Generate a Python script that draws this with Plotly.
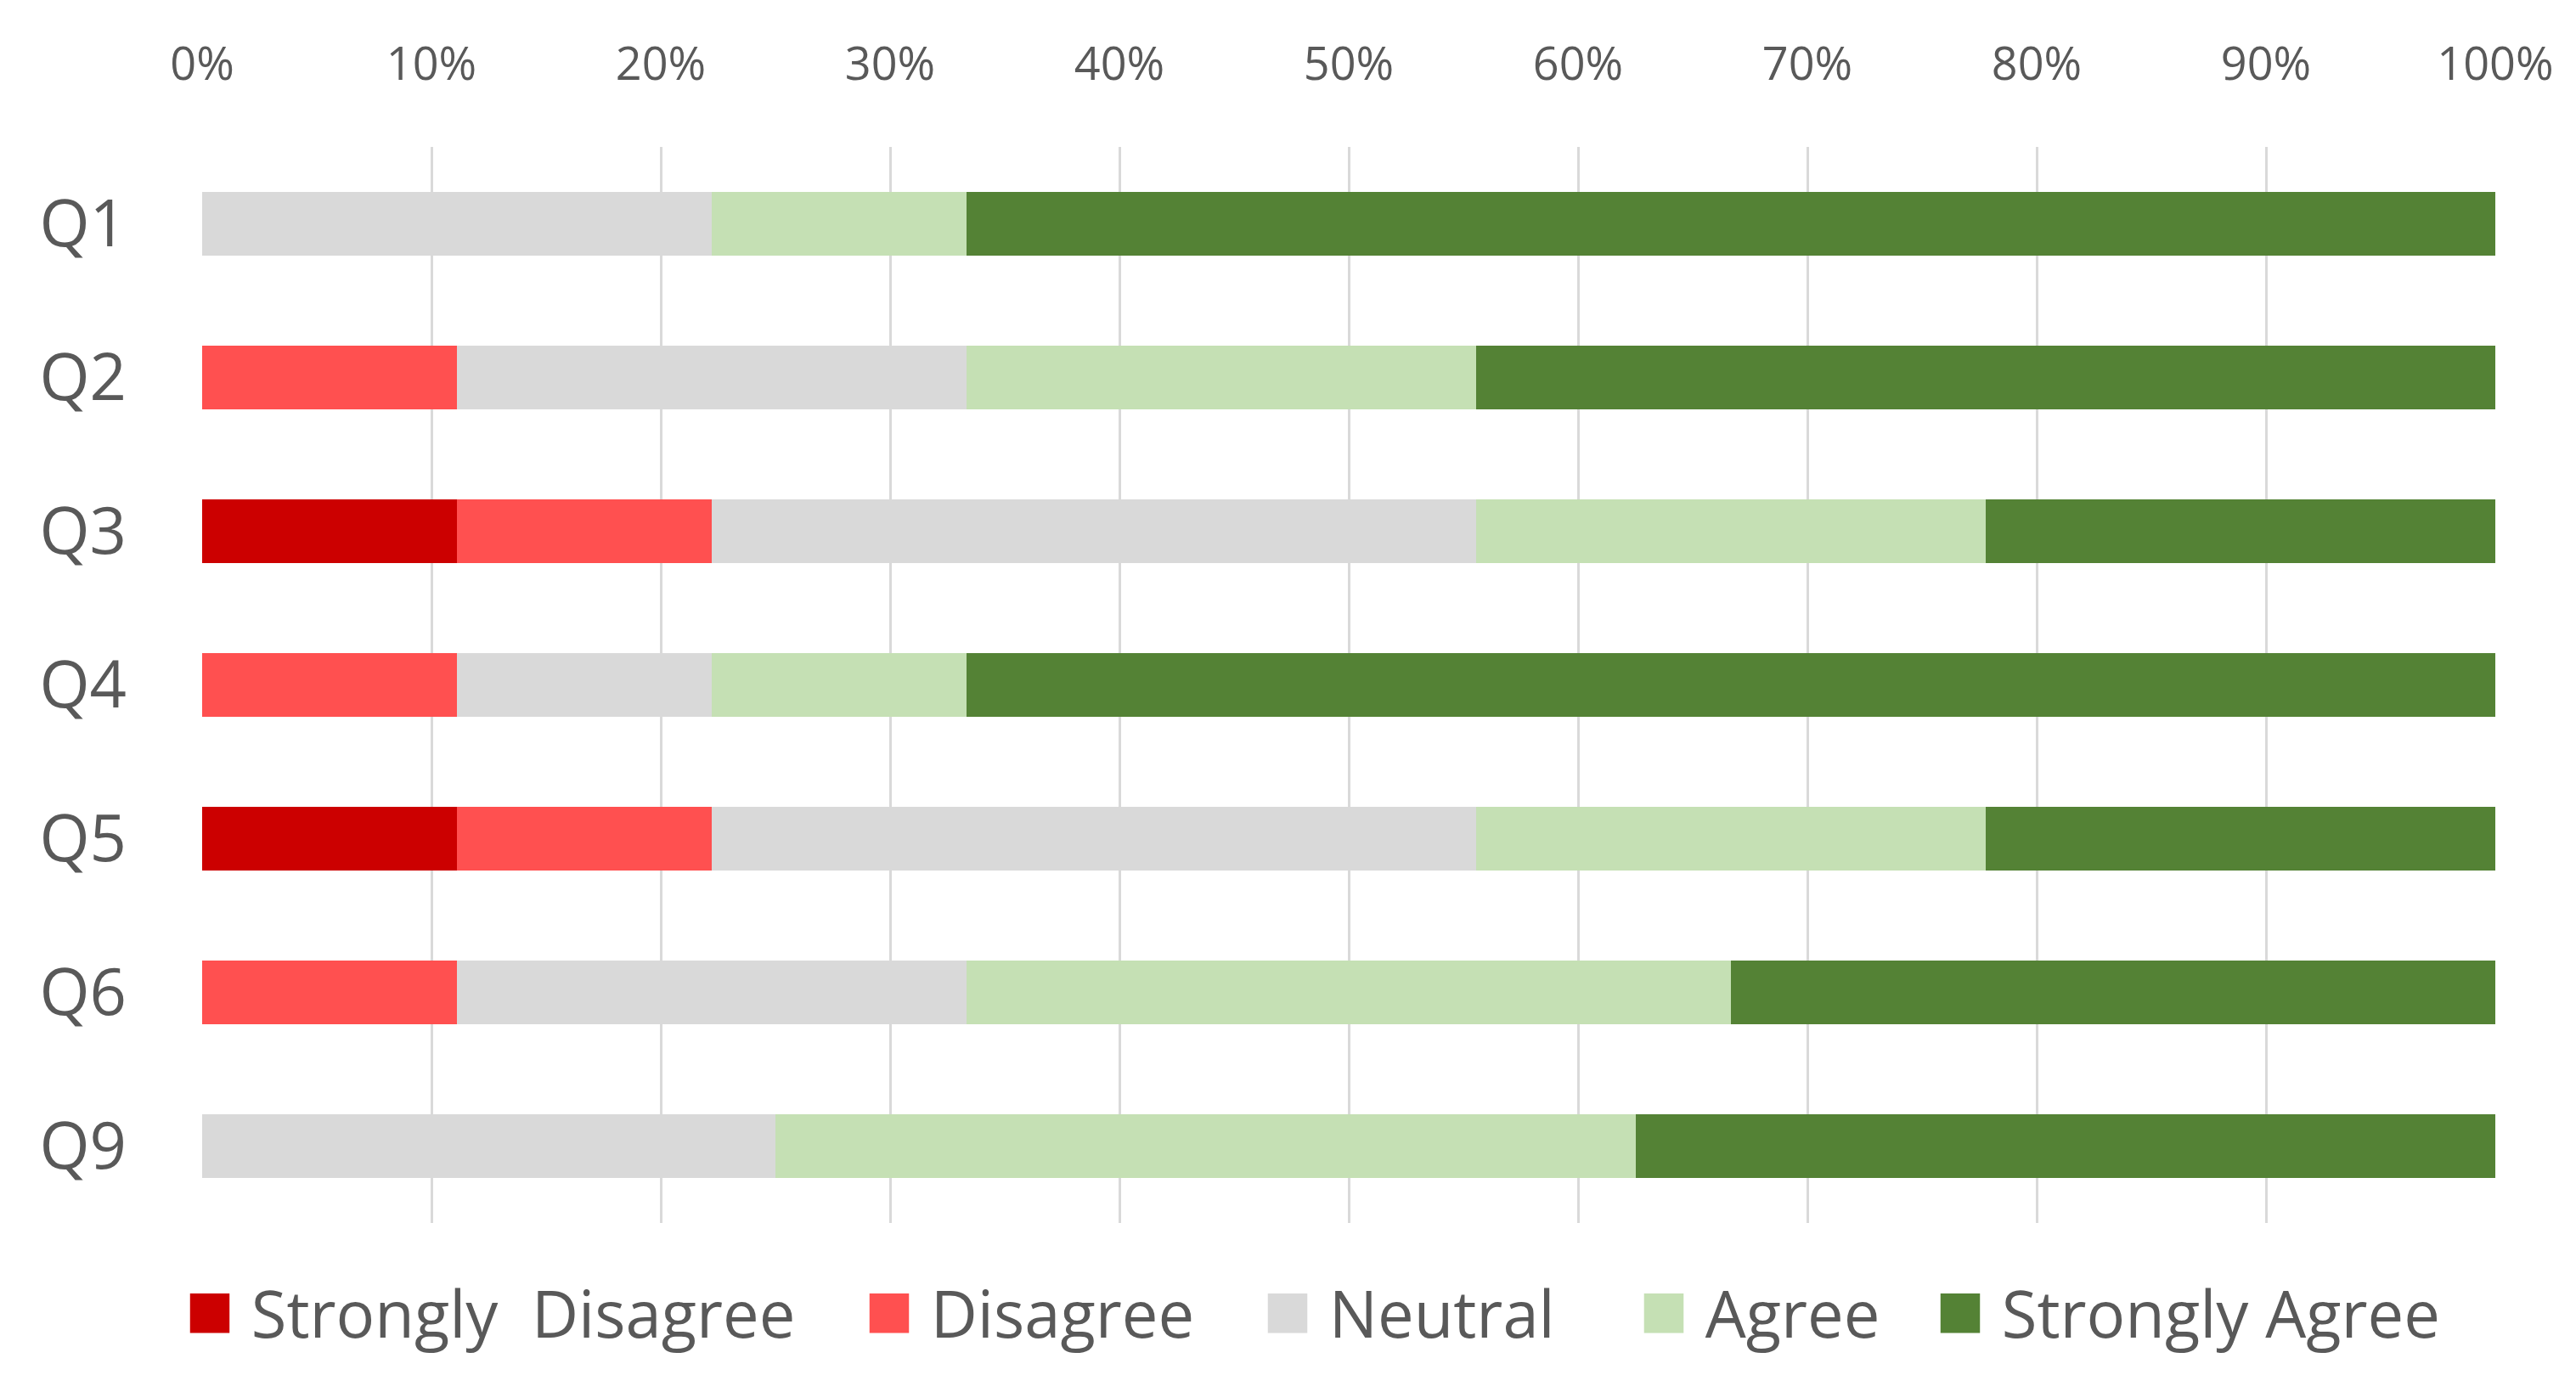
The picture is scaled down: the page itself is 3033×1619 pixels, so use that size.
import plotly.graph_objects as go

questions = ["Q1", "Q2", "Q3", "Q4", "Q5", "Q6", "Q9"]
series_names = ["Strongly\u00a0 Disagree", "Disagree", "Neutral", "Agree", "Strongly Agree"]
strongly_disagree = [0.0, 0.0, 1/9, 0.0, 1/9, 0.0, 0.0]
disagree = [0.0, 1/9, 1/9, 1/9, 1/9, 1/9, 0.0]
neutral = [2/9, 2/9, 3/9, 1/9, 3/9, 2/9, 0.25]
agree = [1/9, 2/9, 2/9, 1/9, 2/9, 3/9, 0.375]
strongly_agree = [6/9, 4/9, 2/9, 6/9, 2/9, 3/9, 0.375]
colors = ["#CC0000", "#FF5050", "#D9D9D9", "#C5E0B4", "#548235"]
tick_vals = [i / 10 for i in range(11)]
tick_text = [f"{i*10}%" for i in range(11)]

all_series = [strongly_disagree, disagree, neutral, agree, strongly_agree]

fig = go.Figure()
for name, vals, col in zip(series_names, all_series, colors):
    fig.add_trace(go.Bar(y=questions, x=vals, orientation="h", name=name,
                         marker=dict(color=col, line=dict(width=0)),
                         showlegend=False))

# legend drawn as text annotations with large square swatches
legend_x = [-0.008, 0.288, 0.462, 0.626, 0.755]
for name, col, lx in zip(series_names, colors, legend_x):
    fig.add_annotation(
        xref="paper", yref="paper", x=lx, y=-0.077, xanchor="left", yanchor="middle",
        showarrow=False,
        text=f'<span style="color:{col};font-size:96px">\u25A0</span> {name}',
        font=dict(family="Open Sans", size=76, color="#595959"),
    )

font_family = "Open Sans"
fig.update_layout(
    width=3033, height=1619,
    barmode="stack", bargap=0.59,
    paper_bgcolor="white", plot_bgcolor="white",
    margin=dict(l=230, r=103, t=165, b=187),
    font=dict(family=font_family, color="#595959"),
    showlegend=False,
    xaxis=dict(side="top", range=[0, 1], tickvals=tick_vals, ticktext=tick_text,
               showgrid=True, gridcolor="#D9D9D9", gridwidth=3, zeroline=False,
               showline=False, ticks="", tickfont=dict(size=54, color="#595959"),
               ticklabelstandoff=67, fixedrange=True),
    yaxis=dict(autorange="reversed", showgrid=False, zeroline=False, showline=False,
               ticks="", tickfont=dict(size=76, color="#595959"),
               ticklabelstandoff=88, categoryorder="array", categoryarray=questions),
)
fig.write_html("out.html")
